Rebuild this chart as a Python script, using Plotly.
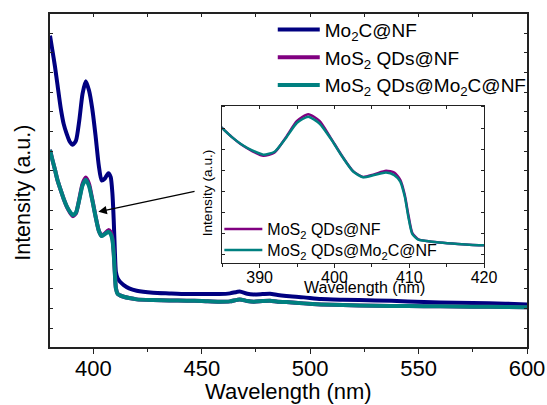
import plotly.graph_objects as go

# Emission spectra (intensity in arbitrary units)
wavelength = [380, 381, 382.3, 383.5, 385, 386.3, 387.7, 389, 390.5, 392, 393.5, 395,
              396.5, 398, 399.5, 401, 402.5, 403.8, 405.3, 406.9, 408, 408.8, 409.4,
              409.9, 410.4, 411.2, 412.3, 414, 416.5, 420, 427.5, 435, 443, 450, 458,
              463, 467.5, 471, 474, 478, 481.5, 485, 489, 497, 505, 515, 530, 545, 560,
              575, 590, 600]

mo2c_nf = [93.5, 89.5, 84.2, 78.5, 71.5, 67.0, 64.0, 61.8, 60.7, 62.0, 68.0, 76.0,
           79.8, 77.0, 71.5, 63.5, 54.5, 50.0, 50.6, 52.2, 51.0, 46.0, 38.0,
           29.0, 22.5, 20.6, 19.6, 18.6, 17.6, 16.9, 16.3, 16.1, 15.9, 15.9, 15.9,
           16.1, 16.7, 16.0, 15.8, 15.9, 16.0, 15.6, 15.3, 14.9, 14.4, 14.2, 14.0,
           13.7, 13.4, 13.2, 13.0, 12.8]

mos2_nf = [59.2, 56.5, 53.2, 50.0, 47.0, 44.5, 42.2, 40.6, 39.3, 40.2, 44.4, 49.0,
           50.9, 49.0, 44.3, 39.3, 35.0, 33.4, 34.1, 35.1, 34.6, 32.6, 28.4,
           22.6, 17.8, 16.0, 15.5, 15.1, 14.7, 14.3, 14.1, 14.0, 13.9, 13.8, 13.6,
           13.7, 14.3, 13.8, 13.6, 13.8, 13.9, 13.6, 13.5, 13.1, 12.8, 12.6, 12.4,
           12.3, 12.2, 12.1, 12.0, 11.9]

mos2_mo2c_nf = [59.2, 56.5, 53.2, 50.0, 47.0, 44.5, 42.3, 40.8, 39.6, 40.4, 44.2, 48.5,
                50.2, 48.3, 44.1, 39.2, 34.9, 33.3, 33.9, 34.6, 33.9, 32.1, 27.9,
                22.0, 17.5, 15.9, 15.5, 15.1, 14.7, 14.3, 14.1, 14.0, 13.9, 13.8, 13.6,
                13.7, 14.3, 13.8, 13.6, 13.8, 13.9, 13.6, 13.5, 13.1, 12.8, 12.6, 12.4,
                12.3, 12.2, 12.1, 12.0, 11.9]

names = ["Mo<sub>2</sub>C@NF", "MoS<sub>2</sub> QDs@NF", "MoS<sub>2</sub> QDs@Mo<sub>2</sub>C@NF"]
colors = ["#000080", "#800080", "#008080"]
series = [mo2c_nf, mos2_nf, mos2_mo2c_nf]

FONT = "Arial, Liberation Sans, sans-serif"
AXC = "#222222"

fig = go.Figure()

# main panel
for name, col, ys in zip(names, colors, series):
    fig.add_trace(go.Scatter(x=wavelength, y=ys, name=name, mode="lines",
                             line=dict(color=col, width=4, shape="spline", smoothing=0.6),
                             legend="legend", hoverinfo="skip"))

# inset panel (zoom on the two MoS2 spectra), one legend box per entry
for name, col, ys, lg in zip(names[1:], colors[1:], series[1:], ["legend2", "legend3"]):
    fig.add_trace(go.Scatter(x=wavelength, y=ys, name=name, mode="lines",
                             line=dict(color=col, width=2.5, shape="spline", smoothing=0.6),
                             xaxis="x2", yaxis="y2", legend=lg, hoverinfo="skip"))

# carriers for the top tick rows
fig.add_trace(go.Scatter(x=wavelength, y=mo2c_nf, mode="lines", line=dict(width=0),
                         opacity=0, showlegend=False, hoverinfo="skip",
                         xaxis="x3", yaxis="y"))
fig.add_trace(go.Scatter(x=wavelength, y=mos2_nf, mode="lines", line=dict(width=0),
                         opacity=0, showlegend=False, hoverinfo="skip",
                         xaxis="x4", yaxis="y2"))

main_xr = [380, 600]
main_yr = [0, 100]
ins_xr = [385, 420]
ins_yr = [9.25, 53.2]
ytick0, ydtick = 5.7, 5.9

inset_legend = dict(xanchor="left", yanchor="middle", bgcolor="rgba(0,0,0,0)",
                    font=dict(size=16, family=FONT), itemwidth=38, tracegroupgap=0)

fig.update_layout(
    width=547, height=405,
    margin=dict(l=50, r=20, t=14, b=58, autoexpand=False),
    paper_bgcolor="white", plot_bgcolor="white",
    font=dict(family=FONT, color="black"),
    xaxis=dict(range=main_xr, domain=[0, 1], anchor="y", showgrid=False, zeroline=False,
               automargin=False,
               showline=True, linecolor=AXC, linewidth=1.5, mirror=True,
               ticks="outside", ticklen=5, tickwidth=1, tickcolor=AXC,
               tick0=400, dtick=50, tickfont=dict(size=22, family=FONT),
               ticklabelstandoff=-4,
               minor=dict(ticks="outside", ticklen=3, tick0=400, dtick=25, tickcolor=AXC)),
    xaxis3=dict(range=main_xr, overlaying="x", anchor="y", side="top", showgrid=False,
                zeroline=False, showline=False, showticklabels=False, automargin=False,
                ticks="inside", ticklen=3, tickcolor=AXC, tick0=400, dtick=50,
                minor=dict(ticks="inside", ticklen=3, tick0=400, dtick=25, tickcolor=AXC)),
    yaxis=dict(range=main_yr, domain=[0, 1], anchor="x", showgrid=False, zeroline=False,
               automargin=False,
               showline=True, linecolor=AXC, linewidth=1.5, mirror="ticks",
               ticks="inside", ticklen=3, tickcolor=AXC, showticklabels=False,
               tick0=ytick0, dtick=ydtick),
    xaxis2=dict(range=ins_xr, domain=[0.361, 0.910], anchor="y2", showgrid=False,
                zeroline=False, showline=True, linecolor=AXC, linewidth=1, mirror=True,
                automargin=False,
                ticks="outside", ticklen=4, tickcolor=AXC, tick0=390, dtick=10,
                tickfont=dict(size=16, family=FONT), ticklabelstandoff=-5,
                minor=dict(ticks="outside", ticklen=2.5, tick0=390, dtick=5, tickcolor=AXC)),
    xaxis4=dict(range=ins_xr, overlaying="x2", anchor="y2", side="top", showgrid=False,
                zeroline=False, showline=False, showticklabels=False, automargin=False,
                ticks="inside", ticklen=3, tickcolor=AXC, tick0=390, dtick=10,
                minor=dict(ticks="inside", ticklen=3, tick0=390, dtick=5, tickcolor=AXC)),
    yaxis2=dict(range=ins_yr, domain=[0.251, 0.724], anchor="x2", showgrid=False,
                zeroline=False, showline=True, linecolor=AXC, linewidth=1, mirror="ticks",
                automargin=False,
                ticks="inside", ticklen=3, tickcolor=AXC, showticklabels=False,
                tick0=ytick0, dtick=ydtick),
    legend=dict(x=0.467, y=1.01, xanchor="left", yanchor="top", bgcolor="rgba(0,0,0,0)",
                font=dict(size=19, family=FONT), itemwidth=42, tracegroupgap=0),
    legend2=dict(inset_legend, x=0.355, y=0.354),
    legend3=dict(inset_legend, x=0.355, y=0.291),
    showlegend=True,
)

fig.add_annotation(text="Wavelength (nm)", xref="paper", yref="paper", x=0.5, y=-0.135,
                   showarrow=False, font=dict(size=22, family=FONT), xanchor="center",
                   yanchor="middle")
fig.add_annotation(text="Intensity (a.u.)", xref="paper", yref="paper", x=-0.057, y=0.4625,
                   showarrow=False, textangle=-90, font=dict(size=21.5, family=FONT),
                   xanchor="center", yanchor="middle")
fig.add_annotation(text="Wavelength (nm)", xref="paper", yref="paper", x=0.660, y=0.180,
                   showarrow=False, font=dict(size=16, family=FONT), xanchor="center",
                   yanchor="middle")
fig.add_annotation(text="Intensity (a.u.)", xref="paper", yref="paper", x=0.332, y=0.4625,
                   showarrow=False, textangle=-90, font=dict(size=13.7, family=FONT),
                   xanchor="center", yanchor="middle")
# arrow pointing from the inset to the zoomed region
fig.add_annotation(text="", x=402.3, y=40.6, xref="x", yref="y", showarrow=True,
                   ax=97.7, ay=-20.7, arrowhead=2, arrowsize=1.3, arrowwidth=1.3,
                   arrowcolor="black")

fig.write_html("out.html")
